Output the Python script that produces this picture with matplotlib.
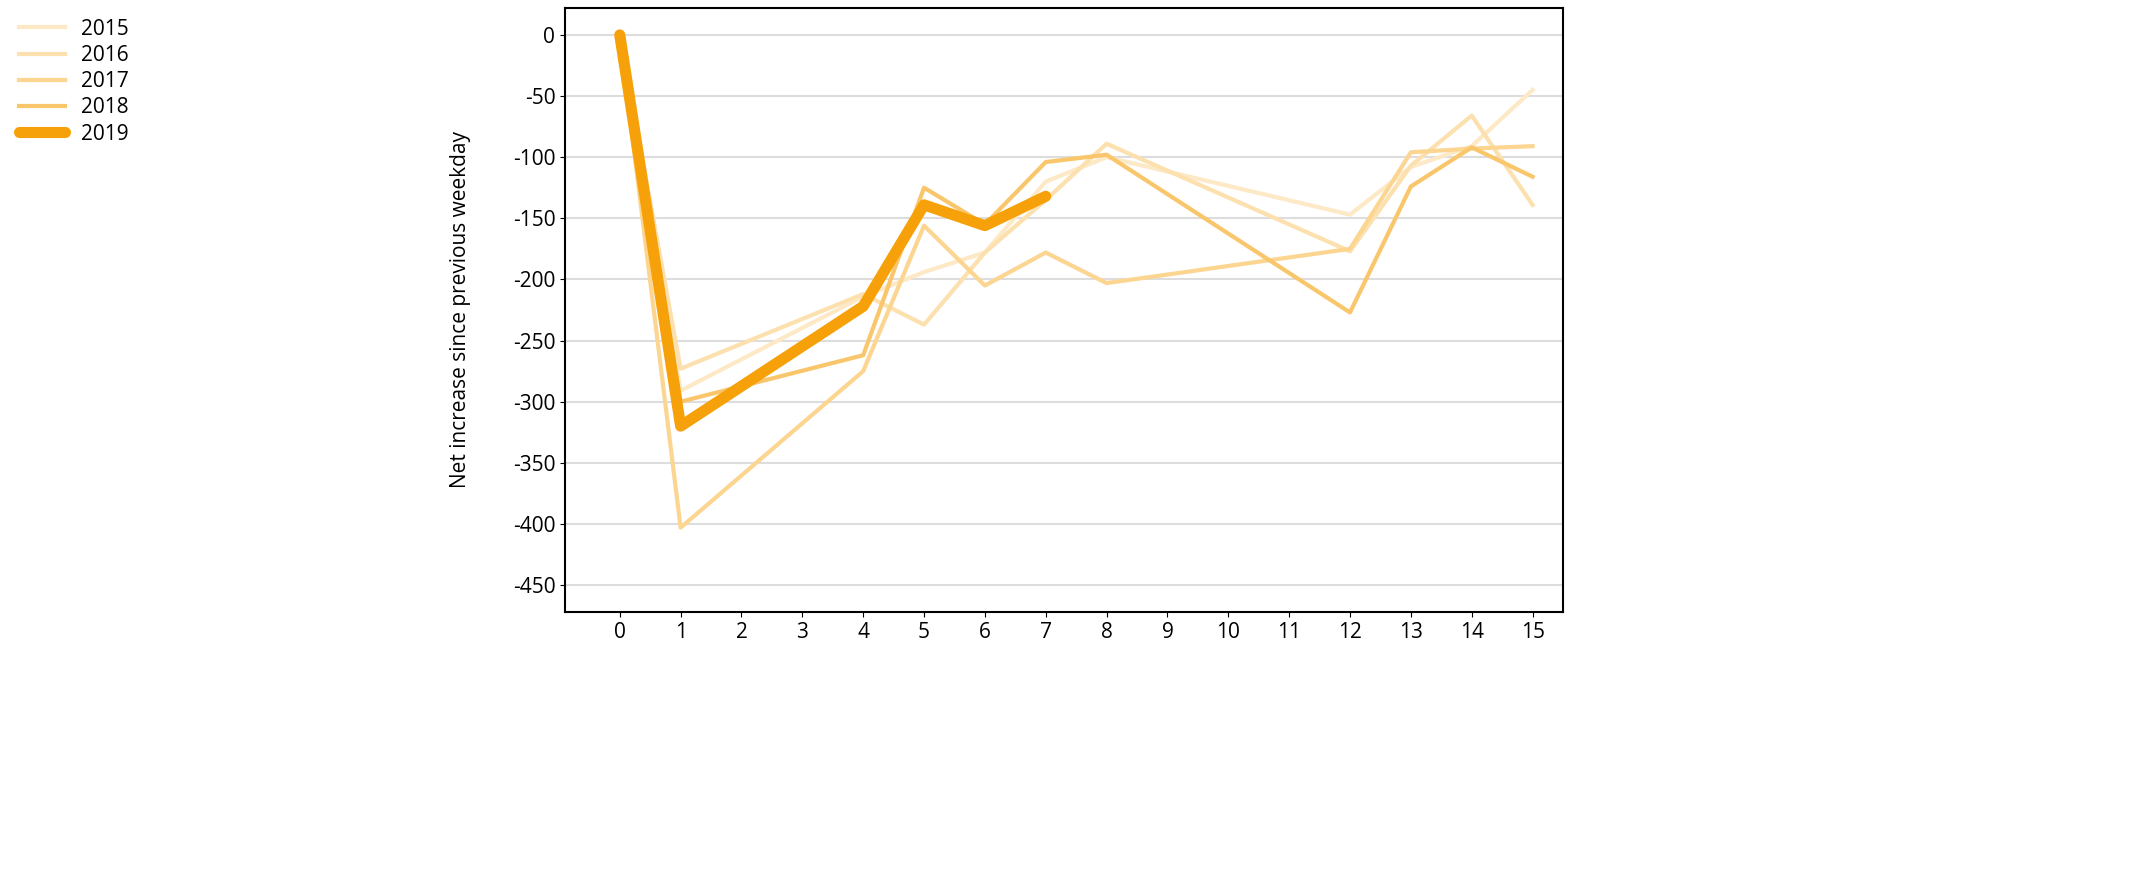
import matplotlib.pyplot as plt

days = [0, 1, 4, 5, 6, 7, 8, 12, 13, 14, 15]
y2015 = [0, -291, -214, -194, -178, -120, -100, -147, -108, -91, -45]
y2016 = [0, -273, -212, -237, -178, -135, -89, -177, -107, -66, -139]
y2017 = [0, -403, -275, -156, -205, -178, -203, -175, -96, -93, -91]
y2018 = [0, -300, -262, -125, -155, -104, -98, -227, -124, -92, -116]
days2019 = [0, 1, 4, 5, 6, 7]
y2019 = [0, -320, -222, -139, -156, -132]

plt.rcParams['font.family'] = ['Open Sans', 'DejaVu Sans']
plt.rcParams['axes.unicode_minus'] = False
fig = plt.figure(figsize=(21.52, 8.93), dpi=100)
ax = fig.add_axes([565 / 2152, 1 - 612 / 893, 998 / 2152, 604 / 893])

ax.plot(days, y2015, color='#fde9c6', lw=3, label='2015')
ax.plot(days, y2016, color='#fce0ae', lw=3, label='2016')
ax.plot(days, y2017, color='#fcd591', lw=3, label='2017')
ax.plot(days, y2018, color='#f9c66c', lw=3, label='2018')
ax.plot(days2019, y2019, color='#f6a10a', lw=8, label='2019', solid_capstyle='round')

ax.set_xlim(-0.9, 15.5)
ax.set_ylim(-472, 22)
ax.set_xticks(range(16))
ax.set_yticks(range(0, -451, -50))
ax.yaxis.grid(True, color='#dddddd', lw=1.5)
ax.set_axisbelow(True)
ax.tick_params(labelsize=15)
for s in ax.spines.values():
    s.set_linewidth(1.5)
ax.set_ylabel('Net increase since previous weekday', fontsize=15, labelpad=30)

fig.legend(loc='upper left', bbox_to_anchor=(0.0, 1.0), frameon=False, fontsize=15,
           handlelength=2.2, labelspacing=0.25)
fig.savefig('out.png')
